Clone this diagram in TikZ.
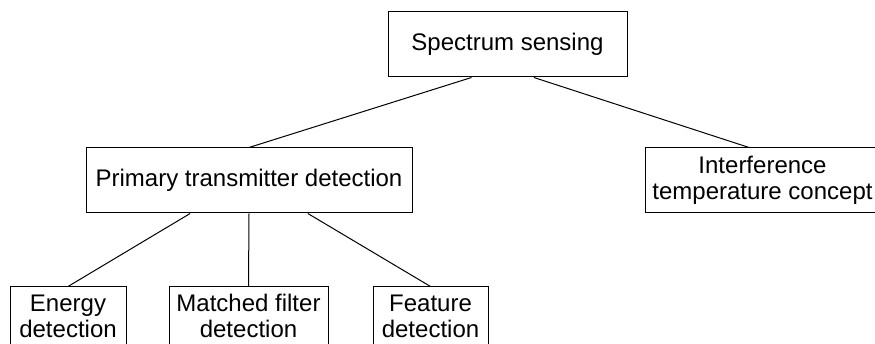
\documentclass[tikz,border=0pt]{standalone}
\usepackage{fontspec}
\setmainfont{Liberation Sans}
\usetikzlibrary{calc}

\tikzset{
  box/.style={draw=black, line width=1pt, fill=white, align=center, inner sep=0pt,
              font=\fontsize{24}{26}\selectfont},
  link/.style={draw=black, line width=1pt},
}

\begin{document}
\begin{tikzpicture}[x=1pt, y=-1pt]
  \useasboundingbox (0,0) rectangle (875,344);

  % top level
  \node[box, minimum width=239pt, minimum height=65pt] (ss) at (507.5,44.5) {Spectrum sensing};

  % second level
  \node[box, minimum width=326pt, minimum height=65pt] (ptd) at (249,180.5) {Primary transmitter detection};
  \node[box, minimum width=235pt, minimum height=65pt] (itc) at (762.5,180.5) {Interference\\temperature concept};

  % third level
  \node[box, minimum width=116pt, minimum height=58pt] (ed) at (68,316) {Energy\\detection};
  \node[box, minimum width=159pt, minimum height=58pt] (mf) at (248.5,316) {Matched filter\\detection};
  \node[box, minimum width=115pt, minimum height=58pt] (fd) at (430.5,316) {Feature\\detection};

  % connectors
  \draw[link] ($(ss.south west)!0.35!(ss.south east)$) -- (ptd.north);
  \draw[link] ($(ss.south west)!0.61!(ss.south east)$) -- ($(itc.north west)!0.443!(itc.north east)$);
  \draw[link] ($(ptd.south west)!0.32!(ptd.south east)$) -- (ed.north);
  \draw[link] (ptd.south) -- (mf.north);
  \draw[link] ($(ptd.south west)!0.68!(ptd.south east)$) -- (fd.north);
\end{tikzpicture}
\end{document}
